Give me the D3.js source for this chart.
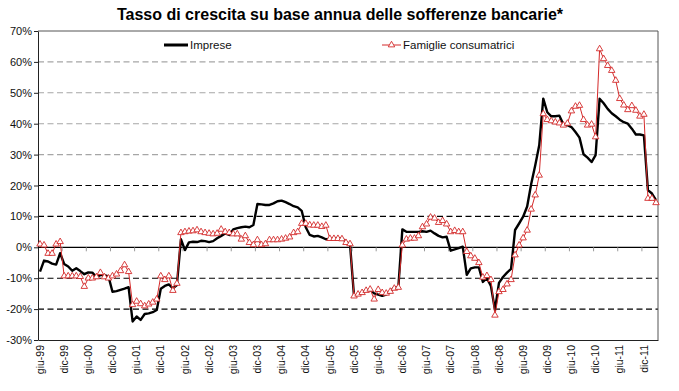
<!DOCTYPE html>
<html><head><meta charset="utf-8">
<script src="https://cdn.jsdelivr.net/npm/d3@7"></script>
<style>
body{margin:0;background:#fff}
svg{display:block;font-family:"Liberation Sans",Arial,sans-serif}
</style>
</head><body>
<svg id="chart" width="679" height="391"></svg>
<script>
const monthNames = ["gen","feb","mar","apr","mag","giu","lug","ago","set","ott","nov","dic"];
const categories = [];
for (let i = 0; i < 154; i++) {
  const k = 5 + i;
  categories.push(monthNames[k % 12] + "-" + String((1999 + Math.floor(k / 12)) % 100).padStart(2, "0"));
}
const tickLabels = ["giu-99","dic-99","giu-00","dic-00","giu-01","dic-01","giu-02","dic-02","giu-03","dic-03",
  "giu-04","dic-04","giu-05","dic-05","giu-06","dic-06","giu-07","dic-07","giu-08","dic-08",
  "giu-09","dic-09","giu-10","dic-10","giu-11","dic-11"];
const yTicks = [-30,-20,-10,0,10,20,30,40,50,60,70];
const seriesNames = ["Imprese","Famiglie consumatrici"];

const imprese = [
  -7.9,-4.3,-4.6,-5.3,-5.6,-1.9,-5.4,-6.2,-7.6,-6.8,
  -7.7,-8.7,-8.1,-8.2,-9.6,-9.0,-9.0,-9.4,-14.4,-14.2,
  -13.8,-13.4,-12.9,-24.0,-22.4,-23.5,-21.6,-21.4,-21.0,-20.3,
  -13.4,-12.5,-12.0,-13.3,-12.2,2.6,-0.9,1.6,1.8,1.7,
  2.1,2.0,1.7,2.0,2.9,3.7,4.5,4.0,5.8,6.2,
  6.5,6.7,6.5,7.2,14.0,13.9,13.7,13.7,14.2,14.9,
  15.1,14.6,14.0,13.3,12.9,11.8,6.5,4.0,3.5,3.7,
  3.2,2.6,2.7,2.8,2.9,2.9,1.8,1.0,-15.9,-15.3,
  -14.7,-14.0,-13.8,-14.9,-15.3,-15.7,-15.3,-14.3,-13.0,-13.0,
  5.8,5.0,5.0,5.0,5.0,5.2,5.0,5.4,4.5,3.7,
  3.2,3.4,-1.1,-0.7,-0.3,0.2,-8.9,-6.8,-6.5,-6.5,
  -11.2,-10.0,-12.5,-20.2,-11.5,-9.6,-8.2,-7.0,5.6,7.7,
  9.9,13.2,20.5,26.5,33.0,48.1,43.7,42.4,42.4,42.6,
  39.8,39.5,38.9,37.3,35.5,30.1,29.0,27.6,29.8,48.1,
  46.6,44.8,43.4,42.4,41.3,40.5,40.0,38.4,36.5,36.5,
  36.2,18.5,17.4,15.3
];
const famiglie = [
  1.0,0.7,-2.0,-2.0,1.0,1.8,-9.3,-9.3,-9.3,-9.3,
  -9.5,-12.7,-10.0,-10.0,-9.6,-8.2,-9.6,-10.0,-9.3,-8.7,
  -7.6,-5.7,-7.9,-18.6,-17.5,-18.3,-19.0,-18.4,-17.8,-16.8,
  -9.3,-10.5,-9.3,-14.0,-11.7,4.7,5.0,5.2,5.3,5.6,
  5.0,4.7,4.5,4.3,4.5,5.8,5.0,4.7,4.3,4.3,
  2.6,3.7,1.5,0.8,2.4,0.8,1.1,2.4,2.4,2.4,
  2.6,2.9,3.3,4.7,5.0,7.7,7.7,7.2,7.1,7.1,
  6.7,7.1,2.8,2.8,2.8,2.7,1.5,1.1,-15.8,-15.2,
  -14.7,-14.0,-13.6,-16.8,-13.7,-14.7,-14.9,-14.3,-13.3,-13.0,
  0.7,2.6,2.9,2.9,3.7,6.6,7.5,9.7,9.4,8.0,
  8.6,7.5,5.0,5.4,5.0,5.0,-1.4,-2.8,-3.6,-5.0,
  -9.7,-9.2,-10.5,-22.0,-14.4,-13.7,-11.9,-10.5,-2.5,0.7,
  3.0,5.5,12.3,16.9,23.3,43.2,41.3,40.9,40.5,40.2,
  39.5,40.1,44.1,45.6,45.9,41.3,39.5,39.8,35.7,64.2,
  61.0,58.8,57.2,54.0,48.1,46.0,44.5,45.8,44.3,42.4,
  43.0,15.8,15.8,14.4
];

const svg = d3.select("#chart");
const L = 38, R = 658, T = 31, B = 340;
const x = d3.scaleBand().domain(categories).range([L, R]).padding(0);
const cx = c => x(c) + x.bandwidth() / 2;
const y = d3.scaleLinear().domain([-30, 70]).range([B, T]);

// gridlines
svg.append("g").selectAll("line")
  .data(yTicks.filter(v => v !== -30 && v !== 0 && v !== 70))
  .join("line")
  .attr("x1", L).attr("x2", R)
  .attr("y1", d => y(d)).attr("y2", d => y(d))
  .attr("stroke", d => d >= 30 ? "#a6a6a6" : "#000")
  .attr("stroke-width", 1.1)
  .attr("stroke-dasharray", "6,3.5");

// plot frame (top/right)
svg.append("path")
  .attr("d", `M${L},${T}H${R}V${B}`)
  .attr("fill", "none").attr("stroke", "#555").attr("stroke-width", 1);

// left axis
const yAxis = svg.append("g").attr("transform", `translate(${L},0)`)
  .call(d3.axisLeft(y).tickValues(yTicks).tickFormat(d => d + "%").tickSize(4).tickSizeOuter(0));
yAxis.select(".domain").attr("stroke", "#222");
yAxis.selectAll(".tick line").attr("stroke", "#222");
yAxis.selectAll("text").attr("font-size", 11).attr("fill", "#111").attr("x", -6)
  .attr("font-family", '"Liberation Sans",Arial,sans-serif');

// bottom axis with rotated labels
const xAxis = svg.append("g").attr("transform", `translate(0,${B})`)
  .call(d3.axisBottom(x).tickValues(tickLabels).tickSize(0).tickSizeOuter(0));
xAxis.select(".domain").attr("stroke", "#222");
xAxis.selectAll(".tick").attr("transform", d => `translate(${cx(d)},0)`);
xAxis.selectAll("text")
  .attr("transform", "rotate(-90)")
  .attr("x", -5).attr("y", 0).attr("dy", "0.35em")
  .attr("text-anchor", "end")
  .attr("font-size", 10.5).attr("fill", "#111")
  .attr("font-family", '"Liberation Sans",Arial,sans-serif');

// zero line with ticks
svg.append("line").attr("x1", L).attr("x2", R).attr("y1", y(0)).attr("y2", y(0))
  .attr("stroke", "#000").attr("stroke-width", 1.2);
svg.append("g").selectAll("line").data(tickLabels.slice(1)).join("line")
  .attr("x1", d => x(d)).attr("x2", d => x(d))
  .attr("y1", y(0)).attr("y2", y(0) + 4)
  .attr("stroke", "#999");

// series
const line = d3.line().x((d, i) => cx(categories[i])).y(d => y(d));
svg.append("path").datum(imprese).attr("d", line)
  .attr("fill", "none").attr("stroke", "#000").attr("stroke-width", 2.4)
  .attr("stroke-linejoin", "round");
const red = "#d42a2a";
svg.append("path").datum(famiglie).attr("d", line)
  .attr("fill", "none").attr("stroke", red).attr("stroke-width", 1);
const tri = d3.symbol().type(d3.symbolTriangle).size(18);
svg.append("g").selectAll("path").data(famiglie).join("path")
  .attr("d", tri)
  .attr("transform", (d, i) => `translate(${cx(categories[i])},${y(d)})`)
  .attr("fill", "#fff").attr("stroke", red).attr("stroke-width", 0.9);

// legend
const lg = svg.append("g").attr("font-size", 11.5).attr("fill", "#111");
lg.append("line").attr("x1", 164).attr("x2", 188).attr("y1", 45).attr("y2", 45)
  .attr("stroke", "#000").attr("stroke-width", 3);
lg.append("text").attr("x", 190).attr("y", 49).text(seriesNames[0]);
lg.append("line").attr("x1", 382).attr("x2", 401).attr("y1", 45).attr("y2", 45)
  .attr("stroke", red).attr("stroke-width", 1);
lg.append("path").attr("d", tri).attr("transform", "translate(391.5,45)")
  .attr("fill", "#fff").attr("stroke", red).attr("stroke-width", 0.9);
lg.append("text").attr("x", 403).attr("y", 49).text(seriesNames[1]);

// title
svg.append("text").attr("x", 340).attr("y", 20).attr("text-anchor", "middle")
  .attr("font-size", 16).attr("font-weight", "bold").attr("fill", "#000")
  .text("Tasso di crescita su base annua delle sofferenze bancarie*");
</script>
</body></html>
